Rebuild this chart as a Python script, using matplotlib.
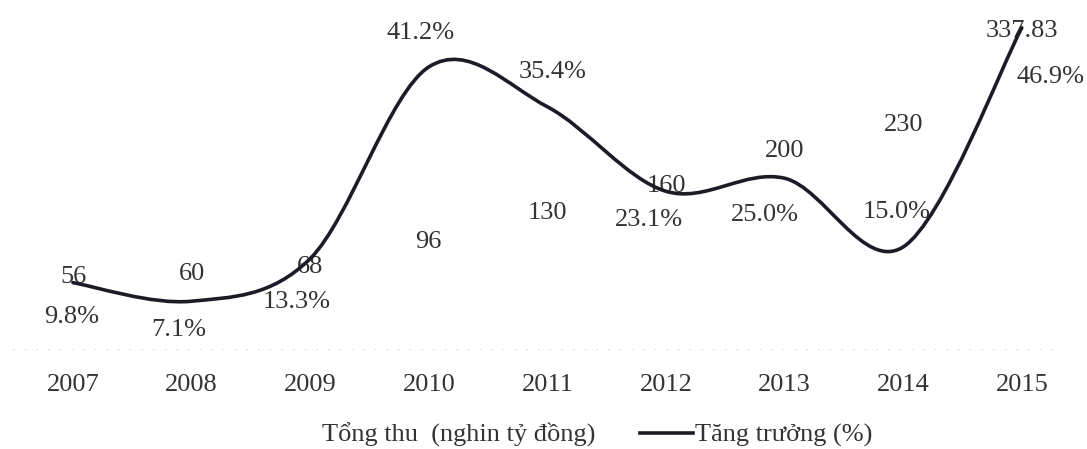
import numpy as np
import matplotlib
matplotlib.use("Agg")
import matplotlib.pyplot as plt
from matplotlib.path import Path
from matplotlib.patches import PathPatch, Patch
from matplotlib.lines import Line2D

# =========================
# Dữ liệu
# =========================
years = ["2007", "2008", "2009", "2010", "2011", "2012", "2013", "2014", "2015"]
tong_thu = [56, 60, 68, 96, 130, 160, 200, 230, 337.83]
tang_truong = [9.8, 7.1, 13.3, 41.2, 35.4, 23.1, 25.0, 15.0, 46.9]
tong_thu_labels = ["56", "60", "68", "96", "130", "160", "200", "230", "337.83"]
tang_truong_labels = ["9.8%", "7.1%", "13.3%", "41.2%", "35.4%", "23.1%", "25.0%", "15.0%", "46.9%"]

# vị trí nhãn % (pixel, so với điểm)
pct_offsets = [(-1, -34), (-13, -29), (-14, -43), (-8, 34), (5, 35),
               (-17, -29), (-20, -37), (-7, 35), (29, -49)]

TEXT_COLOR = "#333333"
LINE_COLOR = "#1c1c28"
FONT = "Liberation Serif"
FS = 19


def smooth_path(xs, ys):
    # đường cong kiểu Excel (Bezier qua từng điểm)
    pts = np.column_stack([xs, ys]).astype(float)
    ext = np.vstack([pts[0], pts, pts[-1]])
    verts = [pts[0]]
    codes = [Path.MOVETO]
    for i in range(len(pts) - 1):
        p0, p1, p2, p3 = ext[i], ext[i + 1], ext[i + 2], ext[i + 3]
        c1 = p1 + (p2 - p0) / 6
        c2 = p2 - (p3 - p1) / 6
        verts += [c1, c2, p2]
        codes += [Path.CURVE4] * 3
    return Path(verts, codes)


plt.rcParams["font.family"] = [FONT, "DejaVu Serif"]

fig = plt.figure(figsize=(10.87, 4.49), dpi=100)
# trục: 0 ở pixel y=350, danh mục 0 ở x=73, bước 118.6 px
ax = fig.add_axes([0.0, (449 - 350) / 449, 1.0, 350 / 449])
ax2 = ax.twinx()

x = np.arange(len(years))
ax.bar(x, tong_thu, width=0.55, color="white", edgecolor="none")
ax.set_xlim(-73 / 118.6, (1087 - 73) / 118.6)
ax.set_ylim(0, 350 / 0.873)
ax2.set_ylim(0, 350 / 6.87)

for xi, v, lab in zip(x, tong_thu, tong_thu_labels):
    ax.annotate(lab, (xi, v), xytext=(0, 24), textcoords="offset pixels",
                ha="center", va="center", fontsize=FS, color=TEXT_COLOR)

ax2.add_patch(PathPatch(smooth_path(x, tang_truong), facecolor="none",
                        edgecolor=LINE_COLOR, lw=2.6, capstyle="round"))

for xi, v, lab, off in zip(x, tang_truong, tang_truong_labels, pct_offsets):
    ax2.annotate(lab, (xi, v), xytext=off, textcoords="offset pixels",
                 ha="center", va="center", fontsize=FS, color=TEXT_COLOR)

# đường nền mờ
ax.axhline(0, xmin=0.012, xmax=0.975, color="#d0d0d0", lw=1.2, ls=(0, (1, 6)))

for a in (ax, ax2):
    for s in a.spines.values():
        s.set_visible(False)
ax.set_xticks(x)
ax.set_xticklabels(years, fontsize=FS, color=TEXT_COLOR)
ax.tick_params(axis="x", length=0, pad=17)
ax.set_yticks([])
ax2.set_yticks([])

handles = [Patch(facecolor="white", edgecolor="none"),
           Line2D([0], [0], color=LINE_COLOR, lw=2.6)]
fig.legend(handles, ["Tổng thu  (nghin tỷ đồng)", "Tăng trưởng (%)"],
           loc="center", bbox_to_anchor=(0.524, 0.031), ncol=2, frameon=False,
           fontsize=FS, labelcolor=TEXT_COLOR, handlelength=2.0,
           handletextpad=0.1, columnspacing=1.7, borderpad=0)

fig.savefig("out.png", dpi=100)
